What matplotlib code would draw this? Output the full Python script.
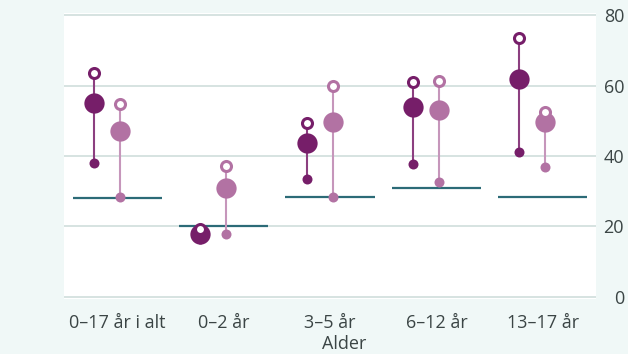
import matplotlib
matplotlib.use("Agg")
import matplotlib.pyplot as plt
import numpy as np

plt.rcParams['font.family'] = ['Open Sans', 'DejaVu Sans']

categories = ["0–17 år i alt", "0–2 år", "3–5 år", "6–12 år", "13–17 år"]
# dark series: low, main, high (open)
dark_low = [38.0, 16.5, 33.4, 37.6, 41.0]
dark_main = [55.0, 17.8, 43.8, 53.8, 61.9]
dark_high = [63.5, 19.3, 49.3, 60.9, 73.4]
# light series
light_low = [28.4, 17.9, 28.5, 32.7, 37.0]
light_main = [47.1, 30.9, 49.7, 53.0, 49.7]
light_high = [54.8, 37.2, 60.0, 61.3, 52.4]
# reference line
reference = [28.1, 20.1, 28.5, 30.8, 28.5]
yticks = [0, 20, 40, 60, 80]

BG = "#f0f8f7"
DARK = "#761e69"
DARK_STEM = "#8c3f80"
LIGHT = "#b272a3"
LIGHT_STEM = "#c696bb"
REF = "#2c6b77"
GRID = "#d6e3e1"
TXT = "#3b4545"

W, H = 628, 354
fig = plt.figure(figsize=(W / 100, H / 100), dpi=100, facecolor=BG)
ax = fig.add_axes([64 / W, (H - 299) / H, 532 / W, 286 / H])
ax.set_facecolor("white")
ax.set_xlim(-0.5, 4.5)
ax.set_ylim(-0.57, 80.57)

x = np.arange(len(categories))
xd = x - 0.22
xl = x + 0.025

for yv in yticks:
    ax.axhline(yv, color=GRID, lw=1.4, zorder=0.5)

for i in range(len(categories)):
    ax.plot([x[i] - 0.42, x[i] + 0.42], [reference[i]] * 2, color=REF, lw=1.6,
            zorder=1, solid_capstyle='butt')

for xs, lo, mn, hi, col, stem in [(xd, dark_low, dark_main, dark_high, DARK, DARK_STEM),
                                   (xl, light_low, light_main, light_high, LIGHT, LIGHT_STEM)]:
    for i in range(len(categories)):
        ax.plot([xs[i], xs[i]], [min(lo[i], hi[i]), max(lo[i], hi[i])], color=stem, lw=1.5, zorder=2)
    ax.scatter(xs, lo, s=(7.2) ** 2, color=col, zorder=3, linewidths=0)
    ax.scatter(xs, mn, s=(14.6) ** 2, color=col, zorder=4, linewidths=0)
    ax.scatter(xs, hi, s=(7.2) ** 2, facecolor="white", edgecolor=col, linewidths=2.2, zorder=5)

for s in ax.spines.values():
    s.set_visible(False)

ax.set_xticks(x)
ax.set_xticklabels(categories)
ax.set_yticks(yticks)
ax.yaxis.tick_right()
ax.tick_params(axis='both', length=0, labelsize=13, labelcolor=TXT)
ax.tick_params(axis='x', pad=11)
ax.tick_params(axis='y', pad=20.2)
for t in ax.get_yticklabels():
    t.set_horizontalalignment('right')

fig.text(344 / W, 1 - 344 / H, "Alder", ha='center', va='center', fontsize=13, color=TXT)

fig.savefig("out.png", dpi=100, facecolor=BG)
